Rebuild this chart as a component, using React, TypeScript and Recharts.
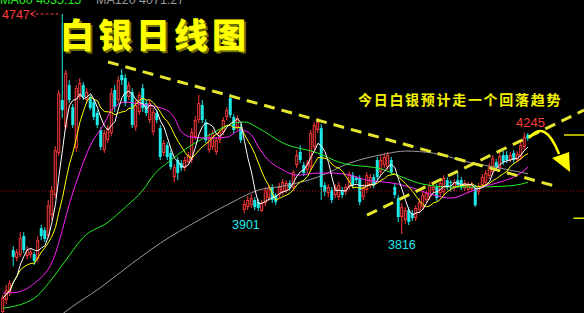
import React from "react";
import {
  ComposedChart,
  Bar,
  Line,
  XAxis,
  YAxis,
  ReferenceLine,
  ReferenceDot,
} from "recharts";

// daily candles (price units)
const opens = [
  3486, 3536, 3571, 3748, 3714, 3727, 3807, 3723, 3727, 3731,
  3710, 3841, 3832, 3807, 3896, 3981, 4159, 4383, 4268, 4446,
  4353, 4180, 4396, 4446, 4383, 4396, 4374, 4328, 4256, 4171,
  4213, 4243, 4425, 4383, 4489, 4476, 4396, 4417, 4268, 4332,
  4433, 4370, 4298, 4247, 4328, 4264, 4159, 4192, 4159, 4057,
  4129, 4116, 4095, 4120, 4129, 4226, 4298, 4362, 4290, 4171,
  4184, 4163, 4213, 4247, 4311, 4391, 4311, 4268, 4268, 3917,
  3930, 3938, 3960, 3951, 3913, 3947, 3968, 4015, 3981, 3981,
  3994, 3998, 4032, 4010, 4108, 4163, 4108, 4087, 4099, 4184,
  4256, 4264, 4023, 3989, 4002, 3981, 3972, 4002, 3994, 4015,
  4065, 4053, 4053, 3972, 4002, 4023, 4057, 4129, 4078, 4108,
  4099, 4129, 4015, 3968, 3888, 3875, 3917, 3904, 3883, 3917,
  3930, 3960, 3972, 4002, 4015, 3989, 3994, 4044, 4036, 4010,
  4044, 4044, 4010, 4002, 4006, 4010, 3994, 4023, 4032, 4061,
  4078, 4120, 4095, 4150, 4150, 4129, 4159, 4129, 4142, 4184,
  4236,
];
const closes = [
  3545, 3579, 3608, 3719, 3740, 3799, 3748, 3748, 3740, 3702,
  3790, 3807, 3795, 3938, 4002, 4171, 4412, 4340, 4497, 4383,
  4277, 4433, 4455, 4396, 4417, 4349, 4311, 4277, 4184, 4243,
  4264, 4412, 4353, 4467, 4467, 4370, 4446, 4277, 4362, 4404,
  4349, 4328, 4370, 4332, 4298, 4142, 4201, 4142, 4099, 4099,
  4074, 4095, 4129, 4150, 4247, 4298, 4370, 4298, 4213, 4226,
  4243, 4213, 4247, 4298, 4340, 4319, 4256, 4307, 4213, 3943,
  3960, 3968, 3930, 3926, 3947, 4002, 4010, 3960, 3951, 4015,
  4036, 4032, 4010, 4078, 4150, 4129, 4074, 4116, 4243, 4277,
  4290, 4015, 3994, 4015, 3960, 4015, 4023, 3981, 4015, 4070,
  4023, 4044, 3951, 4015, 4065, 4057, 4023, 4057, 4129, 4142,
  4150, 4078, 3981, 3888, 3930, 3917, 3867, 3883, 3926, 3951,
  3981, 3989, 4023, 4015, 3968, 4032, 4053, 4015, 4032, 4036,
  4023, 4015, 4032, 4023, 4027, 3938, 4019, 4057, 4074, 4099,
  4137, 4099, 4146, 4120, 4129, 4150, 4129, 4154, 4192, 4226,
  4220,
];
const highs = [
  3558, 3600, 3621, 3765, 3752, 3824, 3824, 3765, 3752, 3740,
  3807, 3854, 3845, 3960, 4019, 4188, 4425, 4747, 4510, 4467,
  4366, 4446, 4476, 4459, 4433, 4404, 4387, 4340, 4268, 4256,
  4277, 4433, 4446, 4484, 4514, 4493, 4459, 4433, 4383, 4417,
  4450, 4383, 4383, 4349, 4340, 4277, 4213, 4205, 4171, 4112,
  4142, 4129, 4142, 4163, 4264, 4315, 4404, 4383, 4302, 4243,
  4256, 4226, 4260, 4311, 4353, 4408, 4323, 4319, 4281, 3960,
  3977, 3985, 3972, 3964, 3960, 4015, 4023, 4027, 3989, 4032,
  4049, 4044, 4044, 4087, 4171, 4192, 4120, 4129, 4256, 4290,
  4307, 4281, 4036, 4027, 4015, 4027, 4036, 4015, 4027, 4082,
  4078, 4061, 4065, 4027, 4078, 4070, 4070, 4142, 4150, 4159,
  4163, 4142, 4027, 3981, 3947, 3930, 3930, 3917, 3938, 3968,
  3994, 4002, 4036, 4027, 4027, 4044, 4065, 4057, 4044, 4049,
  4074, 4057, 4044, 4036, 4036, 4023, 4032, 4070, 4087, 4116,
  4150, 4133, 4167, 4167, 4167, 4163, 4171, 4167, 4205, 4245,
  4243,
];
const lows = [
  3460, 3519, 3553, 3680, 3702, 3719, 3735, 3710, 3714, 3685,
  3697, 3790, 3782, 3799, 3875, 3968, 4146, 4307, 4256, 4370,
  4264, 4163, 4383, 4383, 4370, 4340, 4298, 4264, 4171, 4159,
  4201, 4230, 4332, 4370, 4446, 4357, 4383, 4264, 4252, 4319,
  4332, 4315, 4285, 4234, 4285, 4129, 4146, 4129, 4087, 4036,
  4044, 4082, 4082, 4108, 4116, 4213, 4285, 4285, 4201, 4159,
  4171, 4150, 4201, 4234, 4298, 4307, 4243, 4256, 4201, 3904,
  3917, 3926, 3917, 3913, 3908, 3934, 3955, 3947, 3938, 3968,
  3981, 3989, 3998, 3998, 4095, 4116, 4061, 4074, 4087, 4171,
  4243, 3960, 3977, 3972, 3947, 3968, 3960, 3968, 3981, 4002,
  4010, 4032, 3938, 3960, 3989, 4010, 4010, 4044, 4065, 4095,
  4087, 4065, 3968, 3867, 3816, 3858, 3854, 3871, 3871, 3904,
  3917, 3947, 3960, 3989, 3955, 3977, 3981, 4002, 3994, 3998,
  4010, 4002, 3998, 3989, 3994, 3930, 3981, 4010, 4023, 4049,
  4065, 4087, 4087, 4108, 4116, 4120, 4116, 4120, 4129, 4171,
  4210,
];

// slower averages, read at a few candles each
const ma20At = [0, 4, 9, 14, 20, 25, 29, 31, 35, 39, 46, 49, 51, 54, 60, 64, 68, 71, 73, 75, 80, 84, 90, 94, 99, 104, 109, 113, 118, 123, 128, 133, 137, 142, 147, 150];
const ma20Val = [3566, 3570, 3608, 3697, 3993, 4192, 4285, 4340, 4374, 4366, 4345, 4307, 4247, 4226, 4222, 4226, 4256, 4235, 4184, 4142, 4087, 4065, 4074, 4074, 4065, 4044, 4036, 4027, 4006, 3981, 3968, 3993, 4015, 4036, 4065, 4099];
const ma60At = [0, 9, 13, 18, 23, 30, 35, 40, 43, 48, 53, 59, 65, 69, 73, 80, 90, 96, 109, 114, 120, 128, 134, 144, 148, 150];
const ma60Val = [3502, 3545, 3608, 3706, 3803, 3866, 3930, 4002, 4065, 4129, 4184, 4235, 4281, 4290, 4264, 4201, 4158, 4120, 4087, 4057, 4027, 4015, 4015, 4019, 4027, 4035];
const ma120At = [14, 17, 28, 37, 45, 56, 65, 73, 80, 90, 99, 109, 115, 123, 133, 142, 150];
const ma120Val = [3440, 3478, 3591, 3693, 3778, 3875, 3947, 4002, 4019, 4057, 4116, 4154, 4167, 4158, 4120, 4095, 4071];

// hand-drawn trend lines and marks
const fallLine = [
  { x: 30, y: 4544 },
  { x: 157.7, y: 4019 },
];
const riseLine = [
  { x: 104, y: 3896 },
  { x: 166, y: 4340 },
];
const RED = "#ff3b3b";
const CYAN = "#1ee8e8";
const YEL = "#ffff00";

function avg(arr: number[], end: number, n: number) {
  const start = Math.max(0, end - n + 1);
  let s = 0;
  for (let k = start; k <= end; k++) s += arr[k];
  return s / (end - start + 1);
}

const rows = opens.map((o, i) => {
  const j20 = ma20At.indexOf(i);
  const j60 = ma60At.indexOf(i);
  const j120 = ma120At.indexOf(i);
  return {
    i,
    o,
    c: closes[i],
    h: highs[i],
    l: lows[i],
    range: [lows[i], highs[i]],
    ma5: avg(closes, i, 5),
    ma10: avg(closes, i, 10),
    ma20: j20 >= 0 ? ma20Val[j20] : null,
    ma60: j60 >= 0 ? ma60Val[j60] : null,
    ma120: j120 >= 0 ? ma120Val[j120] : null,
  };
});

function Candle(props: any) {
  const { x, y, width, height } = props;
  const d = props.payload || props;
  if (x == null || d == null || d.h == null) return null;
  const top = Math.min(y, y + height);
  const bot = Math.max(y, y + height);
  const span = d.h - d.l || 1;
  const py = (v: number) => top + ((d.h - v) / span) * (bot - top);
  const up = d.c >= d.o;
  const color = up ? RED : CYAN;
  const cx = x + width / 2;
  const bTop = py(Math.max(d.o, d.c));
  const bBot = Math.max(py(Math.min(d.o, d.c)), bTop + 1);
  if (up) {
    return (
      <g>
        <line x1={cx} x2={cx} y1={top} y2={bTop} stroke={color} strokeWidth={1} />
        <line x1={cx} x2={cx} y1={bBot} y2={bot} stroke={color} strokeWidth={1} />
        <rect
          x={x + 0.5}
          y={bTop + 0.5}
          width={Math.max(width - 1, 1)}
          height={Math.max(bBot - bTop - 1, 0.5)}
          fill="#000"
          stroke={color}
          strokeWidth={1}
        />
      </g>
    );
  }
  return (
    <g>
      <line x1={cx} x2={cx} y1={top} y2={bot} stroke={color} strokeWidth={1} />
      <rect x={x} y={bTop} width={width} height={bBot - bTop} fill={color} />
    </g>
  );
}

function LeftHead(props: any) {
  const { cx, cy } = props;
  return (
    <path
      d={`M${cx + 5},${cy - 3} L${cx},${cy} L${cx + 5},${cy + 3}`}
      stroke={RED}
      strokeWidth={1}
      fill="none"
    />
  );
}

function TurnArrow(props: any) {
  const { cx, cy } = props;
  return (
    <g>
      <path
        d={`M${cx},${cy} Q${cx + 16},${cy - 20} ${cx + 30},${cy + 16}`}
        stroke={YEL}
        strokeWidth={2.5}
        fill="none"
      />
      <path
        d={`M${cx + 23},${cy + 20} L${cx + 40},${cy + 14} L${cx + 41},${cy + 34} Z`}
        fill={YEL}
      />
    </g>
  );
}

const txt: React.CSSProperties = {
  position: "absolute",
  fontFamily: "'Liberation Sans', Arial, sans-serif",
  lineHeight: 1,
  whiteSpace: "nowrap",
};

export default function App() {
  return (
    <div
      style={{
        position: "fixed",
        left: 0,
        top: 0,
        width: 584,
        height: 313,
        background: "#000",
        overflow: "hidden",
      }}
    >
      <ComposedChart
        width={584}
        height={313}
        data={rows}
        margin={{ top: 0, right: 0, bottom: 0, left: 0 }}
      >
        <XAxis dataKey="i" type="number" domain={[-0.857, 166]} hide allowDataOverflow />
        <YAxis type="number" domain={[3482, 4806]} hide allowDataOverflow />
        <ReferenceLine y={3998} stroke="#b00000" strokeDasharray="1 2" />
        <Bar dataKey="range" barSize={3} shape={<Candle />} isAnimationActive={false} />
        <Line dataKey="ma120" type="monotone" stroke="#9a9a9a" strokeWidth={1} dot={false} connectNulls isAnimationActive={false} />
        <Line dataKey="ma60" type="monotone" stroke="#22ee22" strokeWidth={1} dot={false} connectNulls isAnimationActive={false} />
        <Line dataKey="ma20" type="monotone" stroke="#ff22ff" strokeWidth={1} dot={false} connectNulls isAnimationActive={false} />
        <Line dataKey="ma10" type="linear" stroke="#ffff00" strokeWidth={1} dot={false} isAnimationActive={false} />
        <Line dataKey="ma5" type="linear" stroke="#ffffff" strokeWidth={1} dot={false} isAnimationActive={false} />
        <ReferenceLine segment={fallLine} stroke="#e6e62e" strokeWidth={3} strokeDasharray="11 7" />
        <ReferenceLine segment={riseLine} stroke="#e6e62e" strokeWidth={3} strokeDasharray="11 7" />
        <ReferenceLine segment={[{ x: 7.9, y: 4747 }, { x: 15.8, y: 4747 }]} stroke={RED} strokeDasharray="3 2" />
        <ReferenceDot x={7.9} y={4747} r={3} shape={<LeftHead />} />
        <ReferenceDot x={150.3} y={4222} r={3} shape={<TurnArrow />} />
        <ReferenceLine segment={[{ x: 160.3, y: 4235 }, { x: 166, y: 4235 }]} stroke="#e8e800" strokeWidth={1.5} />
        <ReferenceLine segment={[{ x: 163, y: 3883 }, { x: 166, y: 3883 }]} stroke="#e8e800" strokeWidth={1.5} />
      </ComposedChart>

      <div style={{ ...txt, left: 0, top: -6, fontSize: 12.5, color: "#22ee22" }}>MA60 4035.15</div>
      <div style={{ ...txt, left: 96, top: -6, fontSize: 12.5, color: "#9a9a9a" }}>MA120 4071.27</div>
      <div style={{ ...txt, left: 2, top: 9, fontSize: 12.5, color: RED }}>4747</div>
      <div
        style={{
          ...txt,
          left: 60,
          top: 17,
          fontSize: 34,
          fontWeight: 900,
          letterSpacing: 4,
          color: YEL,
          fontFamily: "'Noto Sans CJK SC', sans-serif",
          textShadow: "2px 2px 0 #707000",
        }}
      >
        白银日线图
      </div>
      <div
        style={{
          ...txt,
          left: 358,
          top: 92,
          fontSize: 14,
          fontWeight: 700,
          letterSpacing: 1.7,
          color: "#f2f200",
          fontFamily: "'Noto Sans CJK SC', sans-serif",
        }}
      >
        今日白银预计走一个回落趋势
      </div>
      <div style={{ ...txt, left: 232, top: 219, fontSize: 12.5, color: CYAN }}>3901</div>
      <div style={{ ...txt, left: 388, top: 239, fontSize: 12.5, color: CYAN }}>3816</div>
      <div style={{ ...txt, left: 516, top: 116, fontSize: 13, color: RED }}>4245</div>
    </div>
  );
}
